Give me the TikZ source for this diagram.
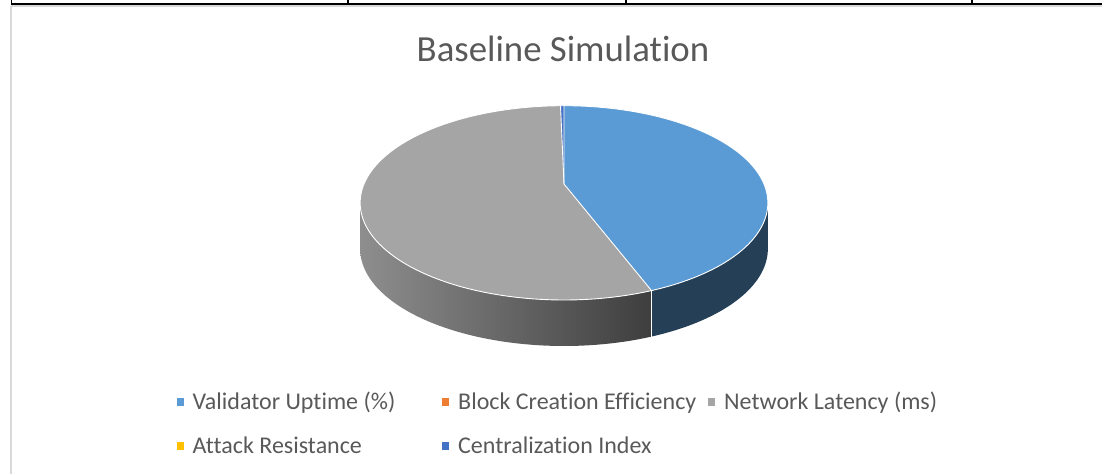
\documentclass[tikz,border=0pt]{standalone}
\usepackage{fontspec}
\setmainfont{Carlito}[Ligatures=NoCommon]
\definecolor{txt}{HTML}{595959}
\definecolor{cblue}{HTML}{5B9BD5}
\definecolor{corange}{HTML}{ED7D31}
\definecolor{cgray}{HTML}{A5A5A5}
\definecolor{cyellow}{HTML}{FFC000}
\definecolor{cdblue}{HTML}{4472C4}
\definecolor{sideblue}{HTML}{243F56}
\definecolor{sidegrayL}{HTML}{8E8E8E}
\definecolor{sidegrayR}{HTML}{3E3E3E}
\definecolor{border}{HTML}{D9D9D9}
\begin{document}
\begin{tikzpicture}[x=1pt,y=-1pt,
  declare function={px(\a)=564+200*sin(\a)/(1+0.194*cos(\a));
                    py(\a)=(184-57.8*cos(\a))/(1+0.194*cos(\a));},
  edge/.style={draw=white,line width=0.9pt,line join=round},
  legmark/.style={fill=#1,minimum size=7.5pt,inner sep=0pt,draw=none},
  legtext/.style={anchor=base west,text=txt,font=\fontsize{24}{28}\selectfont,inner sep=0pt}]
\useasboundingbox (0,0) rectangle (1102,474);
% table and chart frame
\draw[border,line width=2pt] (11,6) -- (1102,6);
\draw[border,line width=2pt] (11,6) -- (11,474);
\draw[black,line width=1.6pt] (11,4) -- (1102,4);
\foreach \xx in {11.5,348,626,972} \draw[black,line width=1.2pt] (\xx,0) -- (\xx,4.5);
% title
\node[anchor=base,text=txt,font=\fontsize{36.8}{42}\selectfont,inner sep=0pt] (title) at (563,61.5) {Baseline Simulation};
% sides
\shade[left color=sidegrayL,right color=sidegrayR]
  plot[domain=258.8:159,samples=60,variable=\a] ({px(\a)},{py(\a)})
  -- plot[domain=159:258.8,samples=60,variable=\a] ({px(\a)},{py(\a)+46}) -- cycle;
\fill[sideblue]
  plot[domain=101.2:159,samples=40,variable=\a] ({px(\a)},{py(\a)})
  -- plot[domain=159:101.2,samples=40,variable=\a] ({px(\a)},{py(\a)+46}) -- cycle;
\draw[edge] ({px(159)},{py(159)}) -- ({px(159)},{py(159)+46});
% top face
\coordinate (c) at (564,184);
\fill[cblue] (c) -- plot[domain=0:159,samples=80,variable=\a] ({px(\a)},{py(\a)}) -- cycle;
\fill[cgray] (c) -- plot[domain=159:358.8,samples=100,variable=\a] ({px(\a)},{py(\a)}) -- cycle;
\fill[cdblue] (c) -- plot[domain=358.8:360,samples=4,variable=\a] ({px(\a)},{py(\a)}) -- cycle;
\draw[edge] plot[domain=0:360,samples=180,variable=\a] ({px(\a)},{py(\a)}) -- cycle;
\draw[edge] ({px(0)},{py(0)}) -- (c) -- ({px(159)},{py(159)});
\draw[edge] (c) -- ({px(358.8)},{py(358.8)});
% legend
\node[legmark=cblue] (m1) at (180.5,402) {};
\node[legtext] (t1) at (192.5,409.5) {Validator Uptime (\%)};
\node[legmark=corange] (m2) at (445.5,402) {};
\node[legtext] (t2) at (458,409.5) {Block Creation Efficiency};
\node[legmark=cgray] (m3) at (711.5,402) {};
\node[legtext] (t3) at (724,409.5) {Network Latency (ms)};
\node[legmark=cyellow] (m4) at (180.5,446) {};
\node[legtext] (t4) at (192.5,453.5) {Attack Resistance};
\node[legmark=cdblue] (m5) at (445.5,446) {};
\node[legtext] (t5) at (458,453.5) {Centralization Index};
\end{tikzpicture}
\end{document}
